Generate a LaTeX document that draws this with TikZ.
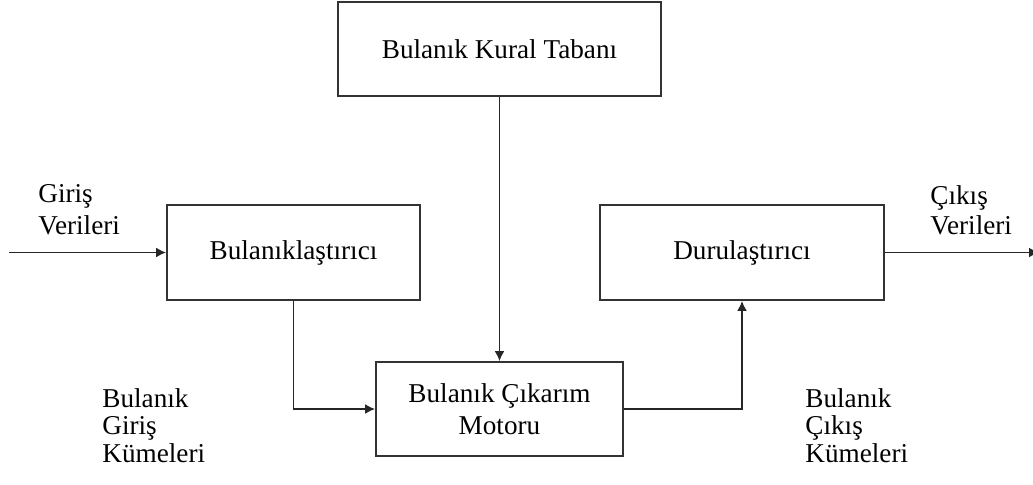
\documentclass[tikz,border=0pt]{standalone}
\usepackage{fontspec}
\setmainfont{Liberation Serif}
\usetikzlibrary{arrows.meta, positioning}

\begin{document}
\begin{tikzpicture}[x=0.5pt,y=-0.5pt,>={Latex[length=5pt,width=5pt]},font=\fontsize{13.6}{13.75}\selectfont]
	\tikzstyle{blok}=[draw=black!80, line width=0.9pt, inner sep=0pt, align=center]
	\tikzstyle{etiket}=[align=left, anchor=base west, inner sep=0pt]
	\tikzstyle{hat}=[draw=black!85, line width=0.9pt]

    \useasboundingbox (0,0) rectangle (1033,484);

    \node [blok, minimum width=161.5pt, minimum height=47pt] (kural) at (499.5,49) {Bulanık Kural Tabanı};
    \node [blok, minimum width=123.5pt, minimum height=47pt] (motor) [below of=kural, node distance=180pt] {Bulanık Çıkarım\\[2.5pt]Motoru};
    \node [blok, minimum width=126.5pt, minimum height=47.5pt] (bulan) at (293.5,252.5) {Bulanıklaştırıcı};
    \node [blok, minimum width=142pt, minimum height=47.5pt] (durul) [right of=bulan, node distance=224.25pt] {Durulaştırıcı};

    % base anchor sits on the last line
    \node [etiket] (girisv) at (38,234) {Giriş\\[1.8pt]Verileri};
    \node [etiket] (cikisv) at (930,234) {Çıkış\\[1pt]Verileri};
    \node [etiket] (bgk) at (102,462) {Bulanık\\Giriş\\Kümeleri};
    \node [etiket] (bck) at (805,462) {Bulanık\\Çıkış\\Kümeleri};

    \coordinate (giris) at (9,252.5);
    \coordinate (cikis) at (1039,252.5);

    \draw[hat,->] (giris) -- (bulan);
    \draw[hat,->] (durul) -- (cikis);
    \draw[hat,->] (kural) -- (motor);
    \draw[hat,->] (bulan) |- (motor);
    \draw[hat,->] (motor) -| (durul);
\end{tikzpicture}
\end{document}
